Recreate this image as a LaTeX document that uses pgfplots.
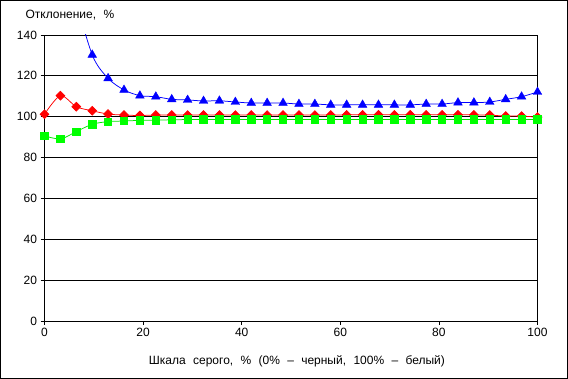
\documentclass[border=0pt]{standalone}
\usepackage{pgfplots}
\usepackage{pgfplotstable}
\usepackage{fontspec}
\setmainfont{Liberation Sans}
\pgfplotsset{compat=1.18}
\definecolor{xlblue}{RGB}{0,0,255}
\definecolor{xlred}{RGB}{255,0,0}
\definecolor{xlgreen}{RGB}{0,230,0}
\definecolor{xlgreenm}{RGB}{0,255,0}
\pgfplotstableread{
x      blue   red    green
0      350    101.2  90.7
3.23   220    110.3  89.1
6.45   160    104.9  92.7
9.68   130.3  102.9  96.3
12.90  118.8  101.3  97.6
16.13  113.1  100.8  97.9
19.35  110.3  100.6  98.2
22.58  109.8  100.8  98.3
25.81  108.5  100.8  98.5
29.03  108.2  100.8  98.6
32.26  107.7  100.8  98.6
35.48  107.8  100.8  98.6
38.71  107.2  100.8  98.6
41.94  106.7  100.8  98.6
45.16  106.7  100.8  98.6
48.39  106.7  100.8  98.6
51.61  106.2  100.8  98.6
54.84  106.2  100.8  98.6
58.06  105.8  100.8  98.6
61.29  105.8  100.9  98.6
64.52  105.8  100.9  98.6
67.74  105.8  100.9  98.6
70.97  105.8  100.9  98.6
74.19  105.8  100.9  98.6
77.42  106.2  100.9  98.6
80.65  106.2  100.9  98.6
83.87  106.9  100.9  98.6
87.10  106.9  100.9  98.6
90.32  107.2  100.8  98.6
93.55  108.5  100.3  98.6
96.77  109.8  100.3  98.6
100    112.1  99.8   98.6
}\datatable
\begin{document}
\begin{tikzpicture}
\useasboundingbox (0,0) rectangle (568pt,379pt);
\draw[black, line width=0.75pt] (0.5pt,0.5pt) rectangle (567.5pt,378.5pt);
\begin{axis}[
  at={(44.5pt,58pt)}, anchor=south west,
  scale only axis, width=493pt, height=286pt,
  xmin=0, xmax=100, ymin=0, ymax=140,
  xtick={0,20,...,100}, ytick={0,20,...,140},
  xtick pos=left, ytick pos=left,
  tick align=outside, major tick length=4pt,
  ymajorgrids, grid style={black, line width=0.75pt},
  axis line style={black, line width=0.75pt},
  tick style={black, line width=0.75pt},
  every tick label/.append style={font=\fontsize{12}{14}\selectfont},
  /pgf/number format/assume math mode=true,
  clip mode=individual,
  xlabel={Шкала\,\, серого,\,\, \%\,\, (0\%\,\, –\,\, черный,\,\, 100\%\,\, –\,\, белый)},
  xlabel style={font=\fontsize{12}{14}\selectfont, at={(axis description cs:0.512,-0.14)}, anchor=center},
  ylabel={Отклонение,\,\, \%},
  ylabel style={font=\fontsize{12}{14}\selectfont, rotate=-90, at={(axis description cs:-0.0456,1.07)}, anchor=west},
]
\addplot[xlblue, line width=0.75pt, smooth, tension=0.5, no marks] table[x=x, y=blue] {\datatable};
\addplot[xlblue, only marks, mark=triangle*, mark size=5pt, restrict y to domain=0:140] table[x=x, y=blue] {\datatable};
\addplot[xlred, line width=0.75pt, smooth, tension=0.5, mark=square*, mark size=3.1pt, mark options={rotate=45, fill=xlred, draw=xlred}] table[x=x, y=red] {\datatable};
\addplot[xlgreen, line width=0.75pt, smooth, tension=0.5, mark=square*, mark size=3.7pt, mark options={fill=xlgreenm, draw=xlgreenm}] table[x=x, y=green] {\datatable};
\end{axis}
\end{tikzpicture}
\end{document}
